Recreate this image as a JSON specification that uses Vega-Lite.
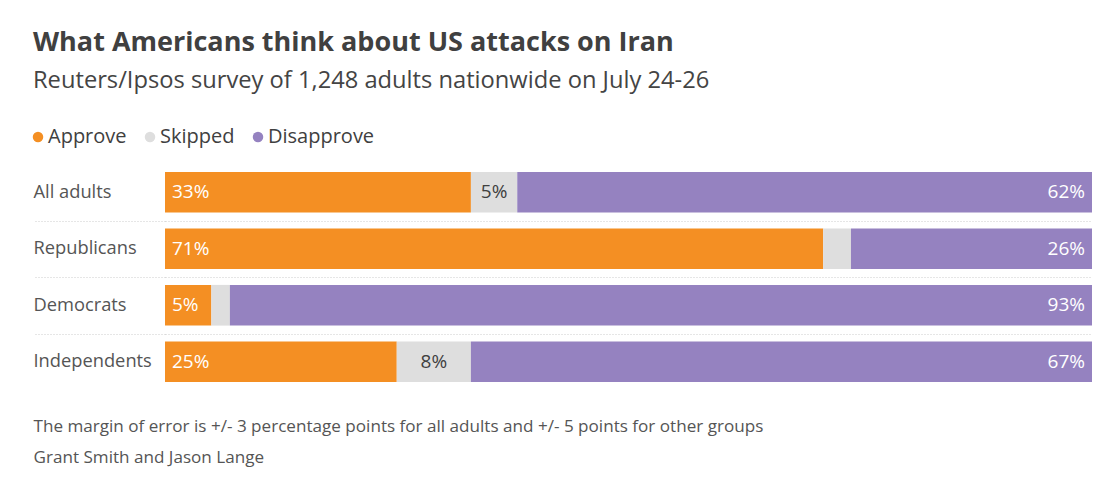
{
  "$schema": "https://vega.github.io/schema/vega-lite/v6.json",
  "width": 927,
  "height": 226,
  "autosize": {"type": "none"},
  "padding": {"left": 165, "top": 164, "right": 18, "bottom": 87},
  "background": "white",
  "config": {"font": "Open Sans", "view": {"stroke": null}},
  "title": {
    "text": "What Americans think about US attacks on Iran",
    "subtitle": "Reuters/Ipsos survey of 1,248 adults nationwide on July 24-26",
    "anchor": "start",
    "frame": "group",
    "dx": -132,
    "fontSize": 27,
    "fontWeight": "bold",
    "color": "#404040",
    "subtitleFontSize": 23.7,
    "subtitleColor": "#444444",
    "subtitlePadding": 12,
    "offset": 33
  },
  "data": {
    "values": [
      {"group": "All adults", "response": "Approve", "value": 33, "label": "33%"},
      {"group": "All adults", "response": "Skipped", "value": 5, "label": "5%"},
      {"group": "All adults", "response": "Disapprove", "value": 62, "label": "62%"},
      {"group": "Republicans", "response": "Approve", "value": 71, "label": "71%"},
      {"group": "Republicans", "response": "Skipped", "value": 3, "label": "3%"},
      {"group": "Republicans", "response": "Disapprove", "value": 26, "label": "26%"},
      {"group": "Democrats", "response": "Approve", "value": 5, "label": "5%"},
      {"group": "Democrats", "response": "Skipped", "value": 2, "label": "2%"},
      {"group": "Democrats", "response": "Disapprove", "value": 93, "label": "93%"},
      {"group": "Independents", "response": "Approve", "value": 25, "label": "25%"},
      {"group": "Independents", "response": "Skipped", "value": 8, "label": "8%"},
      {"group": "Independents", "response": "Disapprove", "value": 67, "label": "67%"}
    ]
  },
  "transform": [
    {"calculate": "indexof(['Approve', 'Skipped', 'Disapprove'], datum.response)", "as": "stackOrder"}
  ],
  "encoding": {
    "y": {
      "field": "group",
      "type": "nominal",
      "sort": ["All adults", "Republicans", "Democrats", "Independents"],
      "scale": {"paddingInner": 0, "paddingOuter": 0},
      "axis": {
        "title": null,
        "domain": false,
        "tickBand": "extent",
        "ticks": true,
        "tickSize": 132,
        "tickColor": "#cccccc",
        "tickDash": [1, 2],
        "tickWidth": 1,
        "grid": true,
        "gridColor": "#cccccc",
        "gridDash": [1, 2],
        "gridWidth": 1,
        "tickOpacity": {"condition": {"test": "datum.value === 'Independents' || datum.extra", "value": 0}, "value": 1},
        "gridOpacity": {"condition": {"test": "datum.value === 'Independents' || datum.extra", "value": 0}, "value": 1},
        "labelAlign": "left",
        "labelPadding": 0,
        "labelFontSize": 18.3,
        "labelColor": "#555555"
      }
    },
    "order": {"field": "stackOrder", "type": "quantitative"}
  },
  "layer": [
    {
      "mark": {"type": "bar", "height": {"band": 0.72}},
      "encoding": {
        "x": {
          "field": "value",
          "type": "quantitative",
          "stack": "zero",
          "scale": {"domain": [0, 100], "nice": false},
          "axis": {
            "orient": "bottom",
            "labels": false,
            "ticks": false,
            "domain": false,
            "grid": false,
            "title": [
              "The margin of error is +/- 3 percentage points for all adults and +/- 5 points for other groups",
              "Grant Smith and Jason Lange"
            ],
            "titleAnchor": "start",
            "titleAlign": "left",
            "titleX": -132,
            "titleY": 41,
            "titleBaseline": "alphabetic",
            "titleFontSize": 17.1,
            "titleFontWeight": "normal",
            "titleColor": "#555555",
            "titleLineHeight": 31
          }
        },
        "color": {
          "field": "response",
          "type": "nominal",
          "sort": ["Approve", "Skipped", "Disapprove"],
          "scale": {"domain": ["Approve", "Skipped", "Disapprove"], "range": ["#F48F23", "#DEDEDE", "#9582C0"]},
          "legend": {
            "title": null,
            "orient": "none",
            "legendX": -137,
            "legendY": -37,
            "direction": "horizontal",
            "symbolType": "circle",
            "symbolSize": 110,
            "symbolStrokeWidth": 0,
            "labelFontSize": 20,
            "labelColor": "#404040",
            "labelOffset": 0,
            "columnPadding": 13
          }
        }
      }
    },
    {
      "mark": {"type": "text", "align": "left", "baseline": "middle", "dx": 7, "fontSize": 19, "color": "white"},
      "encoding": {
        "x": {"field": "value", "type": "quantitative", "stack": "zero", "bandPosition": 0},
        "detail": {"field": "response"},
        "text": {"condition": {"test": "datum.response === 'Approve'", "field": "label"}, "value": ""}
      }
    },
    {
      "mark": {"type": "text", "align": "center", "baseline": "middle", "fontSize": 19, "color": "#404040"},
      "encoding": {
        "x": {"field": "value", "type": "quantitative", "stack": "zero", "bandPosition": 0.5},
        "detail": {"field": "response"},
        "text": {"condition": {"test": "datum.response === 'Skipped' && datum.value >= 5", "field": "label"}, "value": ""}
      }
    },
    {
      "mark": {"type": "text", "align": "right", "baseline": "middle", "dx": -7, "fontSize": 19, "color": "white"},
      "encoding": {
        "x": {"field": "value", "type": "quantitative", "stack": "zero", "bandPosition": 1},
        "detail": {"field": "response"},
        "text": {"condition": {"test": "datum.response === 'Disapprove'", "field": "label"}, "value": ""}
      }
    }
  ]
}
